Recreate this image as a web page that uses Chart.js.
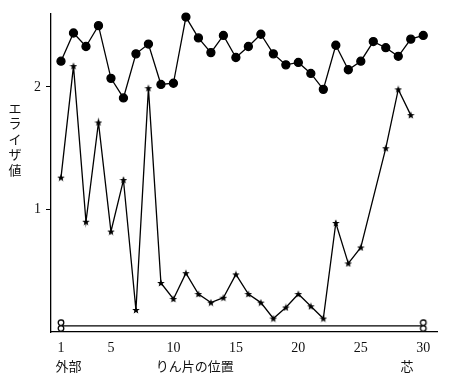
<!DOCTYPE html>
<html>
<head>
<meta charset="utf-8">
<script src="https://cdn.jsdelivr.net/npm/chart.js@4"></script>
<style>
  html, body { margin: 0; padding: 0; background: #fff; }
  #wrap { width: 452px; height: 377px; }
</style>
</head>
<body>
<div id="wrap"><canvas id="elisaChart" width="452" height="377"></canvas></div>
<script>
// りん片の位置 (1 = 外部, 30 = 芯)
var positions = [1, 2, 3, 4, 5, 6, 7, 8, 9, 10, 11, 12, 13, 14, 15,
                 16, 17, 18, 19, 20, 21, 22, 23, 24, 25, 26, 27, 28, 29, 30];
// ● series
var circleValues = [2.21, 2.44, 2.33, 2.50, 2.07, 1.91, 2.27, 2.35, 2.02, 2.03,
                    2.57, 2.40, 2.28, 2.42, 2.24, 2.33, 2.43, 2.27, 2.18, 2.20,
                    2.11, 1.98, 2.34, 2.14, 2.21, 2.37, 2.32, 2.25, 2.39, 2.42];
// ★ series
var starValues = [1.26, 2.17, 0.90, 1.71, 0.82, 1.24, 0.18, 1.99, 0.40, 0.27,
                  0.48, 0.31, 0.24, 0.28, 0.47, 0.31, 0.24, 0.11, 0.20, 0.31,
                  0.21, 0.11, 0.89, 0.56, 0.69, null, 1.50, 1.98, 1.77, null];
// ○ control line (ends only)
var controlPositions = [1, 30];
var controlValues = [0.05, 0.05];
var xTickValues = [1, 5, 10, 15, 20, 25, 30];
var yTickValues = [1, 2];

function toPoints(xs, ys) {
    return xs.map(function (x, i) { return { x: x, y: ys[i] }; });
}

// small filled star marker
function makeStar() {
    var c = document.createElement('canvas');
    c.width = 8; c.height = 8;
    var g = c.getContext('2d');
    g.fillStyle = '#000';
    g.beginPath();
    for (var i = 0; i < 10; i++) {
        var r = i % 2 === 0 ? 4 : 1.7;
        var a = -Math.PI / 2 + i * Math.PI / 5;
        var px = 4 + r * Math.cos(a), py = 4.3 + r * Math.sin(a);
        if (i === 0) g.moveTo(px, py); else g.lineTo(px, py);
    }
    g.closePath();
    g.fill();
    return c;
}

// "8"-like double open circle marker
function makeOpen() {
    var c = document.createElement('canvas');
    c.width = 10; c.height = 14;
    var g = c.getContext('2d');
    g.strokeStyle = '#000';
    g.fillStyle = '#fff';
    g.lineWidth = 1.3;
    [3.8, 9.6].forEach(function (cy) {
        g.beginPath();
        g.arc(5, cy, 2.8, 0, Math.PI * 2);
        g.fill();
        g.stroke();
    });
    return c;
}

var textPlugin = {
    id: 'japaneseLabels',
    afterDraw: function (chart) {
        var ctx = chart.ctx;
        var xs = chart.scales.x;
        ctx.save();
        ctx.fillStyle = '#111';
        ctx.textAlign = 'center';
        ctx.textBaseline = 'middle';
        ctx.font = '13px "Noto Sans CJK JP"';
        // vertical axis title
        var chars = ['エ', 'ラ', 'イ', 'ザ', '値'];
        chars.forEach(function (ch, i) {
            ctx.fillText(ch, 15, 108 + i * 15.5);
        });
        // labels below the axis
        var bottomY = 366;
        ctx.fillText('外部', xs.getPixelForValue(1.6), bottomY);
        ctx.fillText('りん片の位置', xs.getPixelForValue(11.7), bottomY);
        ctx.fillText('芯', xs.getPixelForValue(28.7), bottomY);
        ctx.restore();
    }
};

var ctx = document.getElementById('elisaChart');
var elisaChart = new Chart(ctx, {
    type: 'line',
    data: {
        datasets: [{
            label: 'circle',
            data: toPoints(positions, circleValues),
            borderColor: '#000',
            borderWidth: 1.3,
            pointBackgroundColor: '#000',
            pointBorderColor: '#000',
            pointRadius: 4,
            tension: 0,
            clip: false
        }, {
            label: 'star',
            data: toPoints(positions, starValues),
            borderColor: '#000',
            borderWidth: 1.3,
            pointStyle: makeStar(),
            pointRadius: 4,
            spanGaps: true,
            tension: 0,
            clip: false
        }, {
            label: 'control',
            data: toPoints(controlPositions, controlValues),
            borderColor: '#000',
            borderWidth: 1.3,
            pointStyle: makeOpen(),
            pointRadius: 4,
            tension: 0,
            clip: false
        }]
    },
    options: {
        responsive: false,
        animation: false,
        events: [],
        layout: {
            padding: { left: 0, right: 15, top: 10, bottom: 0 }
        },
        plugins: {
            legend: { display: false },
            tooltip: { enabled: false }
        },
        scales: {
            x: {
                type: 'linear',
                min: 0.2,
                max: 31.1,
                afterBuildTicks: function (scale) {
                    scale.ticks = xTickValues.map(function (v) { return { value: v }; });
                },
                afterFit: function (scale) { scale.height = 45; },
                grid: {
                    display: false,
                    drawTicks: false
                },
                border: { display: true, color: '#000', width: 1.3 },
                ticks: {
                    color: '#111',
                    padding: 8,
                    maxRotation: 0,
                    autoSkip: false,
                    font: { family: '"Liberation Serif"', size: 14 }
                }
            },
            y: {
                min: 0,
                max: 2.6,
                afterBuildTicks: function (scale) {
                    scale.ticks = yTickValues.map(function (v) { return { value: v }; });
                },
                afterFit: function (scale) { scale.width = 51; },
                grid: {
                    display: true,
                    drawOnChartArea: false,
                    drawTicks: true,
                    tickLength: 5,
                    color: '#000'
                },
                border: { display: true, color: '#000', width: 1.3 },
                ticks: {
                    color: '#111',
                    padding: 5,
                    font: { family: '"Liberation Serif"', size: 14 }
                }
            }
        }
    },
    plugins: [textPlugin]
});
</script>
</body>
</html>
